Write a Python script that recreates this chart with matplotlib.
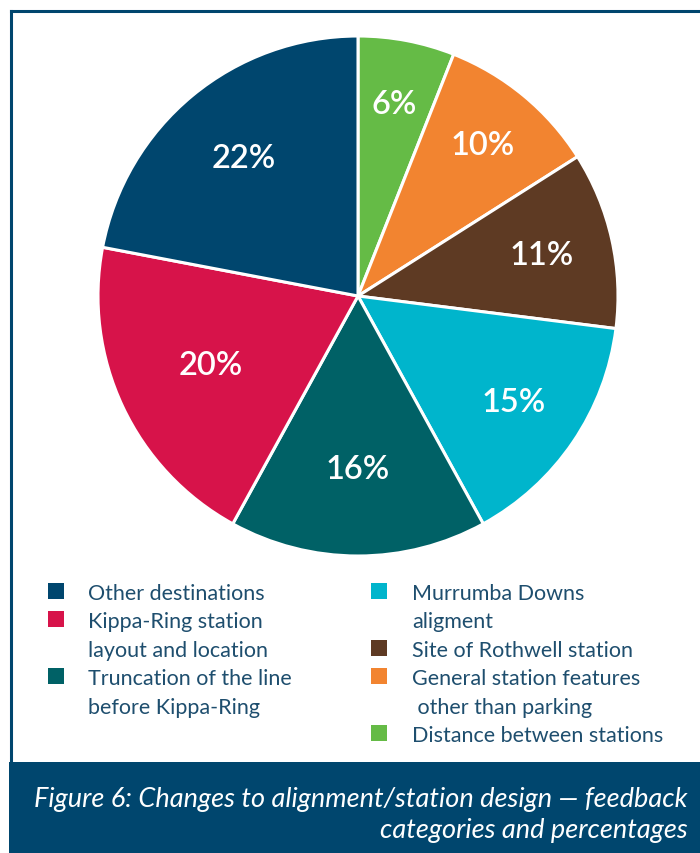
import matplotlib.pyplot as plt
from matplotlib.patches import Rectangle

# Data (clockwise from 12 o'clock)
categories = ["Distance between stations", "General station features\n other than parking",
              "Site of Rothwell station", "Murrumba Downs\naligment",
              "Truncation of the line\nbefore Kippa-Ring", "Kippa-Ring station\nlayout and location",
              "Other destinations"]
percent = [6, 10, 11, 15, 16, 20, 22]
colors = ["#65BB46", "#F28430", "#5E3A23", "#00B5CC", "#006166", "#D7134A", "#00466E"]

# legend layout order
left_col = ["Other destinations", "Kippa-Ring station\nlayout and location",
            "Truncation of the line\nbefore Kippa-Ring"]
right_col = ["Murrumba Downs\naligment", "Site of Rothwell station",
             "General station features\n other than parking", "Distance between stations"]

NAVY = "#00466E"
TEXT = "#1E4E6E"
W, H = 700, 854
plt.rcParams['font.family'] = ['Lato', 'DejaVu Sans']

fig = plt.figure(figsize=(W / 100, H / 100), dpi=100)

# frame lines (top and left) and footer band
fig.add_artist(plt.Line2D([11 / W, 1], [1 - 12 / H, 1 - 12 / H], color=NAVY, lw=2.2))
fig.add_artist(plt.Line2D([11 / W, 11 / W], [1 - 12 / H, 1 - 765 / H], color=NAVY, lw=2.2))
fig.add_artist(Rectangle((9 / W, 0), 1, 1 - 763 / H, transform=fig.transFigure,
                         color=NAVY, lw=0))

# pie
cx, cy, r = 358, 297, 260
ax = fig.add_axes([(cx - r) / W, (H - cy - r) / H, 2 * r / W, 2 * r / H])
wedges, texts, autotexts = ax.pie(percent, colors=colors, startangle=90, counterclock=False,
                                  autopct=lambda p: f"{p:.0f}%", pctdistance=0.7,
                                  wedgeprops=dict(edgecolor="white", linewidth=2.2),
                                  textprops=dict(color="white", fontsize=23.5, fontweight="semibold"))
# nudge each label to where it sits in the original
label_dist = [0.75, 0.755, 0.725, 0.725, 0.665, 0.625, 0.69]
for t, d in zip(autotexts, label_dist):
    x, y = t.get_position()
    t.set_position((x * d / 0.7, y * d / 0.7))
ax.set_xlim(-1, 1)
ax.set_ylim(-1, 1)
ax.set_aspect("equal")
ax.axis("off")

# legend, drawn by hand to keep the two-column layout
color_of = dict(zip(categories, colors))
line_h = 28.4


def draw_column(items, sq_x, txt_x, y0):
    y = y0
    for name in items:
        fig.add_artist(Rectangle((sq_x / W, 1 - (y + 8) / H), 16 / W, 16 / H,
                                 transform=fig.transFigure, color=color_of[name], lw=0))
        for line in name.split("\n"):
            fig.text(txt_x / W, 1 - y / H, line, color=TEXT, fontsize=15.5,
                     va="center_baseline", ha="left")
            y += line_h


draw_column(left_col, 48, 88, 592)
draw_column(right_col, 371, 412, 592)

# caption
fig.text(688 / W, 1 - 800 / H, "Figure 6: Changes to alignment/station design \u2014 feedback",
         color="white", fontsize=19.5, style="italic", ha="right", va="center")
fig.text(688 / W, 1 - 831 / H, "categories and percentages",
         color="white", fontsize=19.5, style="italic", ha="right", va="center")

fig.savefig("out.png", dpi=100)
